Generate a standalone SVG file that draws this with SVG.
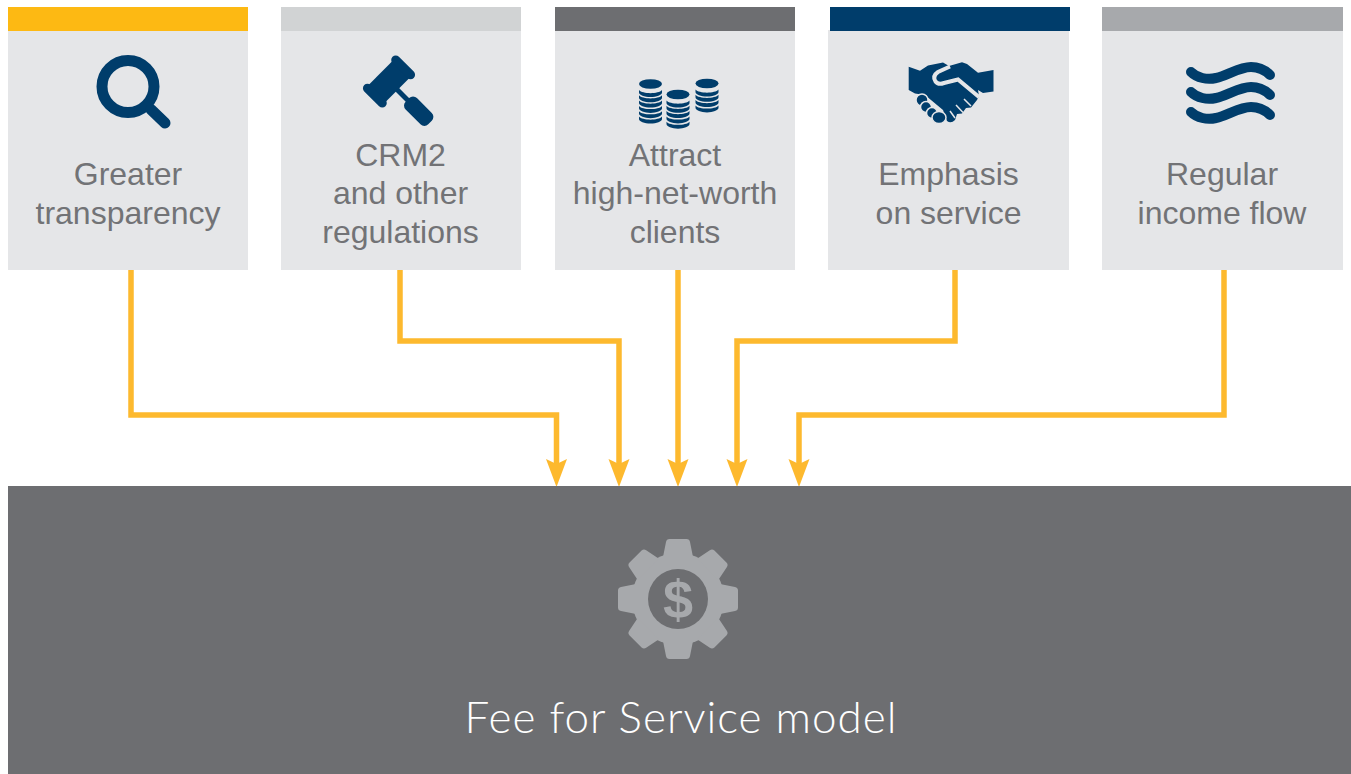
<svg xmlns="http://www.w3.org/2000/svg" width="1351" height="774" viewBox="0 0 1351 774">
<style>
.card{fill:#e5e6e8}
.lbl{font-family:"Liberation Sans",Arial,sans-serif;font-size:32px;fill:#727376;text-anchor:middle}
.conn{fill:none;stroke:#fdb92e;stroke-width:5.500;marker-end:url(#arrow)}
.ic{fill:#003d6b}
.wave{fill:none;stroke:#003d6b;stroke-width:10;stroke-linecap:round}
</style>
<defs>
<marker id="arrow" markerUnits="userSpaceOnUse" markerWidth="30" markerHeight="24" refX="5" refY="11" orient="auto"><path d="M0 0.500L28 11L0 21.500L5 11Z" fill="#fdb92e"/></marker>
<path id="band" d="M-11.500 0C-8 4.200 8 4.200 11.500 0V2.400C11.500 5 6 7 0 7S-11.500 5-11.500 2.400Z"/>
<path id="tooth" d="M-15 -42L-12 -57Q-11.500 -60 -8.500 -60H8.500Q11.500 -60 12 -57L15 -42Z"/>
</defs>
<rect width="1351" height="774" fill="#fff"/>
<g id="connectors">
<path class="conn" d="M131 270V415H556.500V464"/>
<path class="conn" d="M400 270V341H619V464"/>
<path class="conn" d="M678 268V464"/>
<path class="conn" d="M955 270V341H737V464"/>
<path class="conn" d="M1224 270V415H799V464"/>
</g>
<g id="node-transparency">
<rect class="card" x="8" y="31" width="240" height="239"/><rect x="8" y="7" width="240" height="24" fill="#fdb913"/>
<circle cx="128" cy="86.500" r="26" fill="none" stroke="#003d6b" stroke-width="11"/>
<path d="M151 109.500L165 123" stroke="#003d6b" stroke-width="11" stroke-linecap="round"/>
<text class="lbl" x="128" y="185">Greater</text><text class="lbl" x="128" y="224">transparency</text>
</g>
<g id="node-crm2">
<rect class="card" x="281" y="31" width="240" height="239"/><rect x="281" y="7" width="240" height="24" fill="#d1d3d4"/>
<g class="ic" transform="translate(389 81.500) rotate(45)">
<rect x="-12" y="-19" width="24" height="38"/>
<rect x="-15" y="-24.500" width="30" height="9" rx="4.500"/><rect x="-15" y="15.500" width="30" height="9" rx="4.500"/>
<rect x="11" y="-2.500" width="18" height="5"/><rect x="26" y="-8" width="32" height="16" rx="5.500"/>
</g>
<text class="lbl" x="400.500" y="166">CRM2</text><text class="lbl" x="400.500" y="204">and other</text><text class="lbl" x="400.500" y="243">regulations</text>
</g>
<g id="node-clients">
<rect class="card" x="555" y="31" width="240" height="239"/><rect x="555" y="7" width="240" height="24" fill="#6d6e71"/>
<g class="ic">
<g transform="translate(650.500 84)"><ellipse rx="11.500" ry="4.800"/><use href="#band" y="6"/><use href="#band" y="11.300"/><use href="#band" y="16.600"/><use href="#band" y="21.900"/><use href="#band" y="27.200"/><use href="#band" y="32.500"/></g>
<g transform="translate(678 94.500)"><ellipse rx="11.500" ry="4.800"/><use href="#band" y="6"/><use href="#band" y="11.300"/><use href="#band" y="16.600"/><use href="#band" y="21.900"/><use href="#band" y="27.200"/></g>
<g transform="translate(707 83.500)"><ellipse rx="11.500" ry="4.800"/><use href="#band" y="6"/><use href="#band" y="11.300"/><use href="#band" y="16.600"/><use href="#band" y="21.900"/></g>
</g>
<text class="lbl" x="675" y="166">Attract</text><text class="lbl" x="675" y="204">high-net-worth</text><text class="lbl" x="675" y="243">clients</text>
</g>
<g id="node-service">
<rect class="card" x="828" y="30" width="241" height="240"/><rect x="830" y="7" width="240" height="24" fill="#003d6b"/>
<g>
<path class="ic" d="M908.700 66.700L920 70.700L928 65.500L943 62.500L949 66L962 62.300L967 64L978 72.700L993.500 70V91.500L983 93L978 90L979 96L977 100L971 107.500L966 108L962 113.500L957 114L955 120Q951 124 947 121L943 110L925 95L915 93.500L908.700 90Z"/>
<path d="M950 66.500L938 72Q932 76 935.500 81.500Q938 85 944 83L958 79.500L979 97" fill="none" stroke="#e5e6e8" stroke-width="4"/>
<path d="M964 99L971 106M956 105L963 112.500M950 111L955 118" fill="none" stroke="#e5e6e8" stroke-width="1.500"/>
<g class="ic" stroke="#e5e6e8" stroke-width="1.500"><circle cx="922" cy="100" r="6"/><circle cx="926" cy="107" r="5.500"/><circle cx="932" cy="113" r="5.500"/><ellipse cx="939" cy="117.500" rx="7" ry="6"/></g>
</g>
<text class="lbl" x="948.500" y="185">Emphasis</text><text class="lbl" x="948.500" y="224">on service</text>
</g>
<g id="node-income">
<rect class="card" x="1102" y="31" width="241" height="239"/><rect x="1102" y="7" width="241" height="24" fill="#a7a9ac"/>
<path class="wave" d="M1191 72C1197 78 1207 80 1216 78C1227 76 1239 67 1251 67C1259 67 1266 71 1270 75"/>
<path class="wave" d="M1191 92C1197 98 1207 100 1216 98C1227 96 1239 87 1251 87C1259 87 1266 91 1270 95"/>
<path class="wave" d="M1191 112C1197 118 1207 120 1216 118C1227 116 1239 107 1251 107C1259 107 1266 111 1270 115"/>
<text class="lbl" x="1222" y="185">Regular</text><text class="lbl" x="1222" y="224">income flow</text>
</g>
<g id="node-model">
<rect x="8" y="486" width="1343" height="288" fill="#6d6e71"/>
<g transform="translate(678 599)" fill="#a7a9ac">
<circle r="46"/>
<use href="#tooth"/><use href="#tooth" transform="rotate(45)"/><use href="#tooth" transform="rotate(90)"/><use href="#tooth" transform="rotate(135)"/><use href="#tooth" transform="rotate(180)"/><use href="#tooth" transform="rotate(225)"/><use href="#tooth" transform="rotate(270)"/><use href="#tooth" transform="rotate(315)"/>
<circle r="30" fill="#6d6e71"/>
</g>
<text x="678" y="618" font-family="Liberation Sans,Arial,sans-serif" font-size="54" font-weight="700" fill="#a7a9ac" text-anchor="middle">$</text>
<text x="681" y="733" font-family="Lato,sans-serif" font-weight="300" font-size="44" letter-spacing="1" fill="#fff" text-anchor="middle">Fee for Service model</text>
</g>
</svg>
